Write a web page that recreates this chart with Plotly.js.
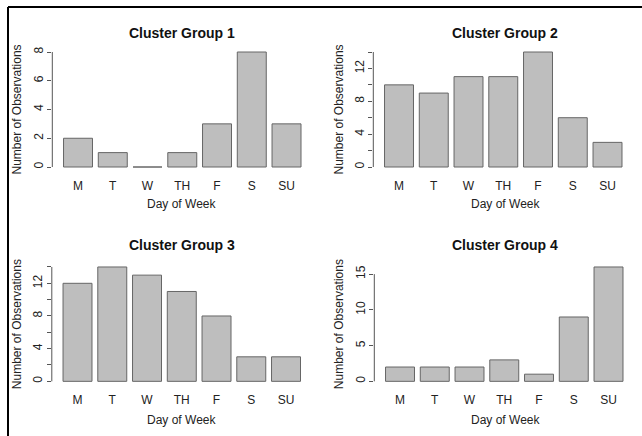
<!DOCTYPE html>
<html>
<head>
<meta charset="utf-8">
<script src="https://cdn.plot.ly/plotly-3.0.1.min.js"></script>
<style>html,body{margin:0;padding:0;background:#fff;}#chart{width:642px;height:436px;}</style>
</head>
<body>
<div id="chart"></div>
<script>
var days = ['M', 'T', 'W', 'TH', 'F', 'S', 'SU'];
var group1 = [2, 1, 0, 1, 3, 8, 3];
var group2 = [10, 9, 11, 11, 14, 6, 3];
var group3 = [12, 14, 13, 11, 8, 3, 3];
var group4 = [2, 2, 2, 3, 1, 9, 16];
var titles = ['Cluster Group 1', 'Cluster Group 2', 'Cluster Group 3', 'Cluster Group 4'];
var xTitle = 'Day of Week';
var yTitle = 'Number of Observations';
var yTicks1 = [0, 2, 4, 6, 8];
var yTickText1 = ['0', '2', '4', '6', '8'];
var yTicks2 = [0, 2, 4, 6, 8, 10, 12, 14];
var yTickText2 = ['0', '', '4', '', '8', '', '12', ''];
var yTicks3 = [0, 2, 4, 6, 8, 10, 12, 14];
var yTickText3 = ['0', '', '4', '', '8', '', '12', ''];
var yTicks4 = [0, 5, 10, 15];
var yTickText4 = ['0', '5', '10', '15'];

var W = 642, H = 436;
var FONT = 'Liberation Sans, Arial, Helvetica, sans-serif';
var series = [group1, group2, group3, group4];
var yt = [yTicks1, yTicks2, yTicks3, yTicks4];
var ytt = [yTickText1, yTickText2, yTickText3, yTickText4];

// panel pixel boxes [x0, x1, yTop, yBottom]
var boxes = [
  [52.3, 310.5, 47.4, 171.6],
  [373.3, 631.5, 47.4, 171.6],
  [51.8, 310, 262.4, 385.9],
  [374.3, 632.5, 262.4, 385.9]
];

var data = [];
var layout = {
  width: W, height: H,
  margin: {l: 0, r: 0, t: 0, b: 0},
  paper_bgcolor: '#ffffff', plot_bgcolor: 'rgba(0,0,0,0)',
  showlegend: false,
  bargap: 0.1667,
  font: {family: FONT, size: 12, color: '#222'},
  annotations: [],
  shapes: []
};

for (var i = 0; i < 4; i++) {
  var n = i + 1;
  var xa = 'x' + (n === 1 ? '' : n), ya = 'y' + (n === 1 ? '' : n);
  var b = boxes[i];
  var vals = series[i];
  var mx = Math.max.apply(null, vals);
  var ext = mx * 0.04;
  data.push({
    type: 'bar', x: days, y: vals, xaxis: xa, yaxis: ya,
    marker: {color: '#bebebe', line: {color: '#666666', width: 1}},
    hoverinfo: 'x+y'
  });
  layout['xaxis' + (n === 1 ? '' : n)] = {
    domain: [b[0] / W, b[1] / W], anchor: ya,
    type: 'category', range: [-0.74, 6.69],
    showgrid: false, zeroline: false, showline: false,
    ticks: '', ticklabelstandoff: 5,
    tickfont: {family: FONT, size: 12, color: '#222'},
    fixedrange: true
  };
  layout['yaxis' + (n === 1 ? '' : n)] = {
    domain: [1 - b[3] / H, 1 - b[2] / H], anchor: xa,
    range: [-ext, mx + ext],
    showgrid: false, zeroline: false, showline: false,
    tickmode: 'array', tickvals: yt[i], ticktext: ytt[i],
    ticks: 'outside', ticklen: 4, tickcolor: '#555', tickwidth: 1,
    tickangle: -90, ticklabelstandoff: 0,
    tickfont: {family: FONT, size: 12, color: '#222'},
    fixedrange: true
  };
  var lastTick = yt[i][yt[i].length - 1];
  layout.shapes.push({
    type: 'line', xref: xa + ' domain', yref: ya,
    x0: 0, x1: 0, y0: 0, y1: lastTick,
    line: {color: '#555', width: 1}
  });
  var cx = (i % 2 === 0) ? 182 : 505;
  var titleY = i < 2 ? 33 : 245;
  var xtY = i < 2 ? 204 : 419.5;
  var ytX = (i % 2 === 0) ? 17 : 339;
  layout.annotations.push({
    text: '<b>' + titles[i] + '</b>', xref: 'paper', yref: 'paper',
    x: cx / W, y: 1 - titleY / H, xanchor: 'center', yanchor: 'middle',
    showarrow: false, font: {family: FONT, size: 14, color: '#111'}
  });
  layout.annotations.push({
    text: xTitle, xref: 'paper', yref: 'paper',
    x: cx / W, y: 1 - xtY / H, xanchor: 'center', yanchor: 'middle',
    showarrow: false, font: {family: FONT, size: 12, color: '#222'}
  });
  layout.annotations.push({
    text: yTitle, xref: 'paper', yref: 'paper',
    x: ytX / W, y: 1 - ((b[2] + b[3]) / 2) / H, xanchor: 'center', yanchor: 'middle',
    textangle: -90,
    showarrow: false, font: {family: FONT, size: 12, color: '#222'}
  });
}

// outer frame (top and left edges)
layout.shapes.push({type: 'line', xref: 'paper', yref: 'paper',
  x0: 8 / W, x1: 1, y0: 1 - 7 / H, y1: 1 - 7 / H, line: {color: '#000', width: 2}});
layout.shapes.push({type: 'line', xref: 'paper', yref: 'paper',
  x0: 8 / W, x1: 8 / W, y0: 1 - 7 / H, y1: 0, line: {color: '#000', width: 2}});

Plotly.newPlot('chart', data, layout, {displayModeBar: false, staticPlot: true});
</script>
</body>
</html>
